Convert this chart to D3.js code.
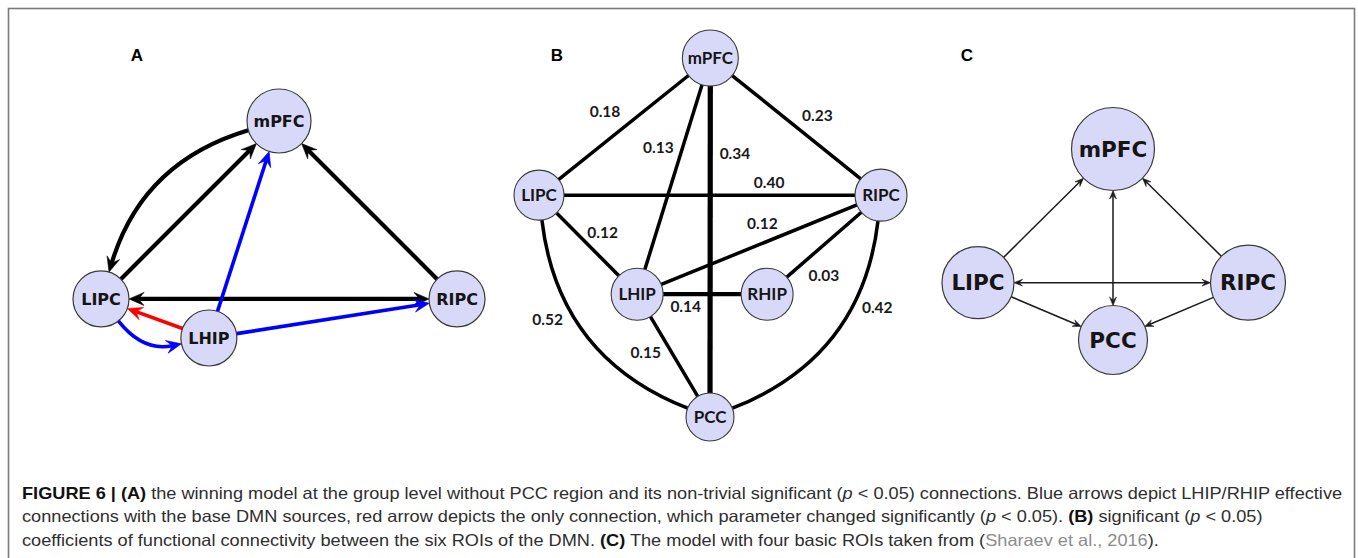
<!DOCTYPE html>
<html>
<head>
<meta charset="utf-8">
<script src="https://cdn.jsdelivr.net/npm/d3@7"></script>
<style>
  html, body { margin: 0; padding: 0; background: #fff; }
  svg { display: block; }
</style>
</head>
<body>
<svg id="fig" width="1358" height="558"></svg>
<script>
// ---------------- Data ----------------
// Regions of interest drawn in each panel
const nodesA = ["mPFC", "LIPC", "RIPC", "LHIP"];
const nodesB = ["mPFC", "LIPC", "RIPC", "LHIP", "RHIP", "PCC"];
const nodesC = ["mPFC", "LIPC", "RIPC", "PCC"];

// Panel A: effective connections [source, target, kind, bidirectional]
const edgesA = [
  ["mPFC", "LIPC", "base", false],
  ["LIPC", "mPFC", "base", false],
  ["RIPC", "mPFC", "base", false],
  ["LIPC", "RIPC", "base", true],
  ["LHIP", "mPFC", "hip", false],
  ["LHIP", "RIPC", "hip", false],
  ["LIPC", "LHIP", "hip", false],
  ["LHIP", "LIPC", "changed", false]
];

// Panel B: functional connectivity coefficients [node, node, coefficient]
const edgesB = [
  ["mPFC", "LIPC", 0.18],
  ["mPFC", "RIPC", 0.23],
  ["mPFC", "LHIP", 0.13],
  ["mPFC", "PCC", 0.34],
  ["LIPC", "RIPC", 0.40],
  ["LIPC", "LHIP", 0.12],
  ["RIPC", "LHIP", 0.12],
  ["RIPC", "RHIP", 0.03],
  ["LHIP", "RHIP", 0.14],
  ["LHIP", "PCC", 0.15],
  ["LIPC", "PCC", 0.52],
  ["RIPC", "PCC", 0.42]
];

// Panel C: basic model connections [source, target, bidirectional]
const edgesC = [
  ["LIPC", "mPFC", false],
  ["RIPC", "mPFC", false],
  ["mPFC", "PCC", true],
  ["LIPC", "RIPC", true],
  ["LIPC", "PCC", false],
  ["RIPC", "PCC", false]
];

const panelLetters = ["A", "B", "C"];

// Caption lines: [text, style]
const captionLines = [
  [["FIGURE 6 | (A)", "b"], [" the winning model at the group level without PCC region and its non-trivial significant (", ""], ["p", "i"], [" < 0.05) connections. Blue arrows depict LHIP/RHIP effective", ""]],
  [["connections with the base DMN sources, red arrow depicts the only connection, which parameter changed significantly (", ""], ["p", "i"], [" < 0.05). ", ""], ["(B)", "b"], [" significant (", ""], ["p", "i"], [" < 0.05)", ""]],
  [["coefficients of functional connectivity between the six ROIs of the DMN. ", ""], ["(C)", "b"], [" The model with four basic ROIs taken from (", ""], ["Sharaev et al., 2016", "link"], [").", ""]]
];

// ---------------- Layout ----------------
const layoutA = {
  box: [101, 457, 121, 338],
  pos: { mPFC: [0.5, 0], LIPC: [0, 0.82], RIPC: [1, 0.82], LHIP: [0.303, 1] },
  r: { mPFC: 32, LIPC: 28, RIPC: 28, LHIP: 28 },
  bend: { "mPFC>LIPC": 0.27, "LIPC>LHIP": 0.31 }
};
const layoutB = {
  box: [539, 881, 58, 417],
  pos: { mPFC: [0.501, 0], LIPC: [0, 0.382], RIPC: [1, 0.382], LHIP: [0.287, 0.658], RHIP: [0.667, 0.658], PCC: [0.5, 1] },
  r: { mPFC: 28, LIPC: 25, RIPC: 26, LHIP: 26, RHIP: 26, PCC: 24 },
  bend: { "LIPC>PCC": 0.30, "RIPC>PCC": -0.30 },
  labelPos: [[0.193, 0.150], [0.814, 0.161], [0.349, 0.250], [0.573, 0.265], [0.673, 0.346], [0.186, 0.487],
             [0.653, 0.460], [0.833, 0.606], [0.429, 0.693], [0.312, 0.820], [0.025, 0.727], [0.989, 0.694]]
};
const layoutC = {
  box: [978, 1248, 149, 340],
  pos: { mPFC: [0.5, 0], LIPC: [0, 0.70], RIPC: [1, 0.70], PCC: [0.5, 1] },
  r: { mPFC: 41.5, LIPC: 36, RIPC: 37.5, PCC: 34.5 },
  bend: {}
};

const nodeFill = "#d8d8f8";
const nodeStroke = "#3a3a3a";
const kindColor = { base: "#000000", hip: "#0000ff", changed: "#ff0000" };

const svg = d3.select("#fig");

// outer figure frame
svg.append("rect")
  .attr("x", 8.5).attr("y", 8.5)
  .attr("width", 1346).attr("height", 620)
  .attr("fill", "none").attr("stroke", "#7a7a7a").attr("stroke-width", 1.6);

// ---------------- Geometry helpers ----------------
function unit(v) { const l = Math.hypot(v[0], v[1]); return [v[0] / l, v[1] / l]; }

function geom(p, q, rs, rt, bend) {
  const dx = q[0] - p[0], dy = q[1] - p[1], L = Math.hypot(dx, dy);
  if (!bend) {
    const u = [dx / L, dy / L];
    const start = [p[0] + u[0] * rs, p[1] + u[1] * rs];
    const end = [q[0] - u[0] * rt, q[1] - u[1] * rt];
    return { start, end, ctrl: null, dirEnd: u, dirStart: [-u[0], -u[1]] };
  }
  const m = [(p[0] + q[0]) / 2, (p[1] + q[1]) / 2];
  const n = [-dy / L, dx / L];
  const c = [m[0] + n[0] * bend * L, m[1] + n[1] * bend * L];
  const a = unit([c[0] - p[0], c[1] - p[1]]);
  const b = unit([c[0] - q[0], c[1] - q[1]]);
  const start = [p[0] + a[0] * rs, p[1] + a[1] * rs];
  const end = [q[0] + b[0] * rt, q[1] + b[1] * rt];
  return { start, end, ctrl: c, dirEnd: unit([end[0] - c[0], end[1] - c[1]]), dirStart: unit([start[0] - c[0], start[1] - c[1]]) };
}

function arrowHead(tip, u, len, half, notch) {
  const back = [tip[0] - u[0] * len, tip[1] - u[1] * len];
  const perp = [-u[1], u[0]];
  const nt = [tip[0] - u[0] * len * notch, tip[1] - u[1] * len * notch];
  const p = d3.path();
  p.moveTo(tip[0], tip[1]);
  p.lineTo(back[0] + perp[0] * half, back[1] + perp[1] * half);
  p.lineTo(nt[0], nt[1]);
  p.lineTo(back[0] - perp[0] * half, back[1] - perp[1] * half);
  p.closePath();
  return p.toString();
}

function drawPanel(g, nodes, edges, layout, opt) {
  const x = d3.scaleLinear().domain([0, 1]).range([layout.box[0], layout.box[1]]);
  const y = d3.scaleLinear().domain([0, 1]).range([layout.box[2], layout.box[3]]);
  const P = name => [x(layout.pos[name][0]), y(layout.pos[name][1])];

  const eg = g.append("g");
  edges.forEach((e) => {
    const s = e.source, t = e.target;
    const gm = geom(P(s), P(t), layout.r[s], layout.r[t], layout.bend[s + ">" + t] || 0);
    let a = gm.start.slice(), b = gm.end.slice();
    const cut = opt.arrowLen * opt.notch;
    if (e.arrowEnd) b = [b[0] - gm.dirEnd[0] * cut, b[1] - gm.dirEnd[1] * cut];
    if (e.arrowStart) a = [a[0] - gm.dirStart[0] * cut, a[1] - gm.dirStart[1] * cut];
    const path = d3.path();
    path.moveTo(a[0], a[1]);
    if (gm.ctrl) path.quadraticCurveTo(gm.ctrl[0], gm.ctrl[1], b[0], b[1]);
    else path.lineTo(b[0], b[1]);
    eg.append("path")
      .attr("d", path.toString())
      .attr("fill", "none")
      .attr("stroke", e.color)
      .attr("stroke-width", e.width);
    if (e.arrowEnd) {
      eg.append("path").attr("d", arrowHead(gm.end, gm.dirEnd, opt.arrowLen, opt.arrowHalf, opt.notch))
        .attr("fill", e.color).attr("stroke", e.color).attr("stroke-width", 0.6).attr("stroke-linejoin", "miter");
    }
    if (e.arrowStart) {
      eg.append("path").attr("d", arrowHead(gm.start, gm.dirStart, opt.arrowLen, opt.arrowHalf, opt.notch))
        .attr("fill", e.color).attr("stroke", e.color).attr("stroke-width", 0.6).attr("stroke-linejoin", "miter");
    }
  });

  const ng = g.append("g").selectAll("g").data(nodes).join("g")
    .attr("transform", d => `translate(${P(d)[0]},${P(d)[1]})`);
  ng.append("circle")
    .attr("r", d => layout.r[d])
    .attr("fill", nodeFill)
    .attr("stroke", nodeStroke)
    .attr("stroke-width", opt.nodeStroke);
  ng.append("text")
    .attr("text-anchor", "middle")
    .attr("dy", "0.36em")
    .attr("font-family", opt.font)
    .attr("font-weight", "bold")
    .attr("font-size", opt.fontSize)
    .attr("fill", "#151515")
    .text(d => d);
  return { x, y };
}

// ---------------- Panel A ----------------
const gA = svg.append("g");
drawPanel(gA, nodesA,
  edgesA.map(([s, t, k, both]) => ({
    source: s, target: t, color: kindColor[k],
    width: k === "base" ? 4.2 : 3.6,
    arrowEnd: true, arrowStart: both
  })),
  layoutA,
  { arrowLen: 15, arrowHalf: 6.5, notch: 0.62, font: "'DejaVu Sans', sans-serif", fontSize: 16, nodeStroke: 1.2 });

// ---------------- Panel B ----------------
const gB = svg.append("g");
const edgeObjsB = edgesB.map(([s, t, v]) => ({
  source: s, target: t, value: v, color: "#000",
  width: (s === "mPFC" && t === "PCC") ? 5.2 : (s === "LHIP" && t === "RHIP") ? 4.2 : 3.5,
  arrowEnd: false, arrowStart: false
}));
const scB = drawPanel(gB, nodesB, edgeObjsB, layoutB,
  { arrowLen: 0, arrowHalf: 0, notch: 0, font: "Lato, 'Open Sans', sans-serif", fontSize: 17, nodeStroke: 1.1 });
gB.append("g").selectAll("text").data(edgeObjsB).join("text")
  .attr("x", (d, i) => scB.x(layoutB.labelPos[i][0]))
  .attr("y", (d, i) => scB.y(layoutB.labelPos[i][1]))
  .attr("dy", "0.36em")
  .attr("text-anchor", "middle")
  .attr("font-family", "Lato, 'Open Sans', sans-serif")
  .attr("font-weight", "bold")
  .attr("font-size", 15.5)
  .attr("fill", "#1a1a1a")
  .text(d => d.value.toFixed(2));

// ---------------- Panel C ----------------
const gC = svg.append("g");
drawPanel(gC, nodesC,
  edgesC.map(([s, t, both]) => ({
    source: s, target: t, color: "#1a1a1a", width: 1.5,
    arrowEnd: true, arrowStart: both
  })),
  layoutC,
  { arrowLen: 8.5, arrowHalf: 3.4, notch: 0.6, font: "'DejaVu Sans', sans-serif", fontSize: 21.5, nodeStroke: 1.2 });

// ---------------- Panel letters ----------------
const letterXs = { A: 137, B: 557, C: 967 };
svg.append("g").selectAll("text").data(panelLetters).join("text")
  .attr("x", d => letterXs[d])
  .attr("y", 55)
  .attr("dy", "0.36em")
  .attr("text-anchor", "middle")
  .attr("font-family", "'Liberation Sans', Arial, sans-serif")
  .attr("font-weight", "bold")
  .attr("font-size", 17)
  .attr("fill", "#000")
  .text(d => d);

// ---------------- Caption ----------------
const capX = 22, capBaselines = [498.5, 522, 545.5], capTargetWidth = 1321;
const capG = svg.append("g");
const lineNodes = captionLines.map((segs) => {
  const t = capG.append("text")
    .attr("x", 0).attr("y", 0)
    .attr("font-family", "'Liberation Sans', Arial, Helvetica, sans-serif")
    .attr("font-size", 16.5)
    .attr("fill", "#2e2e2e")
    .style("white-space", "pre");
  segs.forEach(([txt, st]) => {
    const ts = t.append("tspan").text(txt);
    if (st === "b") ts.attr("font-weight", "bold").attr("fill", "#111");
    if (st === "i") ts.attr("font-style", "italic");
    if (st === "link") ts.attr("fill", "#8c8c8c");
  });
  return t;
});
const sx = capTargetWidth / lineNodes[0].node().getComputedTextLength();
lineNodes.forEach((t, i) => t.attr("transform", `translate(${capX},${capBaselines[i]}) scale(${sx},1)`));
</script>
</body>
</html>
